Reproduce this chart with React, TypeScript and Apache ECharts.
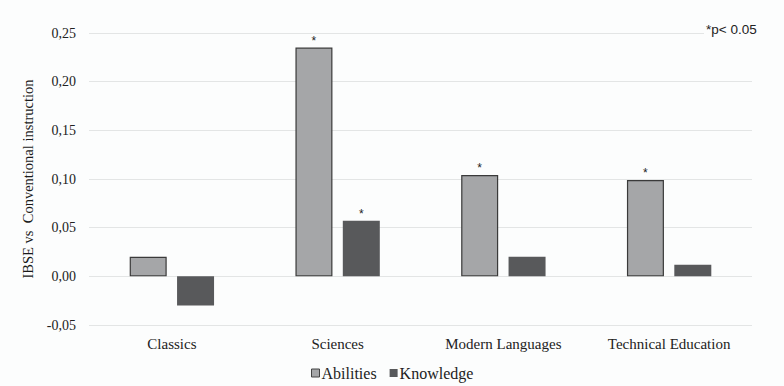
import React, { useEffect, useRef } from "react";
import * as echarts from "echarts";

const categories = ["Classics", "Sciences", "Modern Languages", "Technical Education"];
const abilities = [0.02, 0.235, 0.104, 0.099];
const knowledge = [-0.03, 0.057, 0.02, 0.012];
const abilitiesSig = [false, true, true, true];
const knowledgeSig = [false, true, false, false];
const yTicks = { min: -0.05, max: 0.25, interval: 0.05 };

const serif = "'Liberation Serif', 'Times New Roman', serif";
const sans = "'Liberation Sans', Arial, sans-serif";

export default function App() {
  const ref = useRef<HTMLDivElement>(null);
  useEffect(() => {
    if (!ref.current) return;
    const chart = echarts.init(ref.current, null, { renderer: "svg" });
    const mk = (vals: number[], sig: boolean[]) =>
      vals.map((v, i) => ({
        value: v,
        label: {
          show: sig[i],
          position: "top",
          distance: 1,
          formatter: "*",
          fontFamily: sans,
          fontSize: 12,
          color: "#222",
        },
      }));
    chart.setOption({
      animation: false,
      backgroundColor: "#fcfdfd",
      textStyle: { fontFamily: serif },
      grid: { left: 89, right: 32, top: 33, bottom: 61 },
      xAxis: {
        type: "category",
        data: categories,
        axisLine: { show: false },
        axisTick: { show: false },
        axisLabel: { fontFamily: serif, fontSize: 15, color: "#222", margin: 11 },
      },
      yAxis: {
        type: "value",
        min: yTicks.min,
        max: yTicks.max,
        interval: yTicks.interval,
        name: "IBSE vs  Conventional instruction",
        nameLocation: "middle",
        nameGap: 52,
        nameTextStyle: { fontFamily: serif, fontSize: 14.5, color: "#1a1a1a" },
        axisLine: { show: false },
        axisTick: { show: false },
        splitLine: { lineStyle: { color: "#e3e5e5", width: 1 } },
        axisLabel: {
          fontFamily: serif,
          fontSize: 14,
          color: "#222",
          margin: 13,
          formatter: (v: number) => v.toFixed(2).replace(".", ","),
        },
      },
      legend: {
        bottom: 0,
        left: 306,
        itemWidth: 8,
        itemHeight: 8,
        itemGap: 13,
        icon: "rect",
        textStyle: { fontFamily: serif, fontSize: 16, color: "#222", padding: [0, 0, 0, -3] },
        data: [
          { name: "Abilities", itemStyle: { color: "#a5a6a8", borderColor: "#444", borderWidth: 1 } },
          { name: "Knowledge", itemStyle: { color: "#58595b" } },
        ],
      },
      graphic: [
        {
          type: "text",
          left: 704,
          top: 20,
          z: 10,
          style: {
            text: "*p< 0.05",
            fontFamily: sans,
            fontSize: 13.5,
            fill: "#222",
            backgroundColor: "#fcfdfd",
            padding: [2, 2, 2, 2],
          },
        },
      ],
      series: [
        {
          name: "Abilities",
          type: "bar",
          barWidth: 37,
          barGap: "28%",
          data: mk(abilities, abilitiesSig),
          itemStyle: { color: "#a5a6a8", borderColor: "#3a3a3a", borderWidth: 1.2 },
        },
        {
          name: "Knowledge",
          type: "bar",
          barWidth: 37,
          data: mk(knowledge, knowledgeSig),
          itemStyle: { color: "#58595b" },
        },
      ],
    });
    return () => chart.dispose();
  }, []);
  return <div ref={ref} style={{ width: 784, height: 386, position: "absolute", left: 0, top: 0 }} />;
}
